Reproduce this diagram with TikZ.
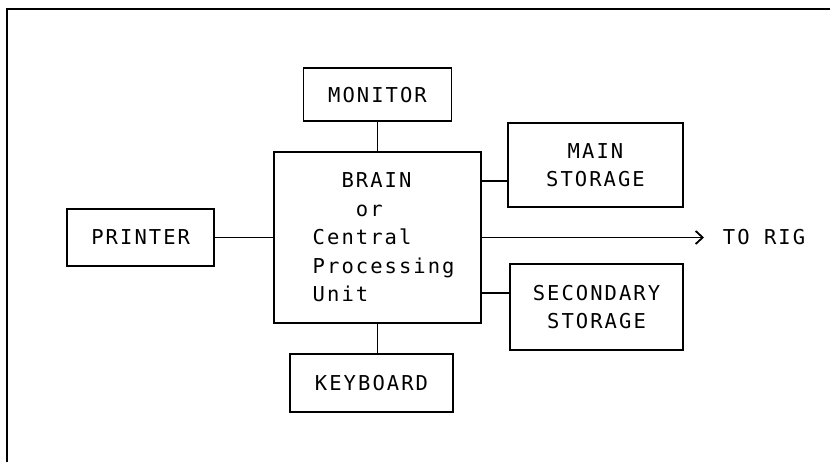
\documentclass[tikz,border=0pt]{standalone}
\usepackage{fontspec}
\usepackage{tikz}
\usetikzlibrary{positioning, calc, arrows.meta}
\newfontfamily\plotfont[LetterSpace=10]{DejaVu Sans Mono}

\begin{document}
\begin{tikzpicture}[x=1pt, y=-1pt, line width=1.8pt,
    unit/.style={draw, align=center, inner sep=0pt,
        font={\plotfont\fontsize{20.5pt}{28.5pt}\selectfont}},
    tag/.style={inner sep=0pt, font={\plotfont\fontsize{20.5pt}{28.5pt}\selectfont}}]
    \useasboundingbox (0,0) rectangle (830,462);

    % Page frame
    \draw (7,462) -- (7,9) -- (830,9);

    % Central unit
    \node[unit, align=left, minimum width=207pt, minimum height=171pt] (cpu) at (377.5,237.5)
        {\hphantom{xxx}BRAIN\\ \hphantom{xxxx}or\\ \hphantom{x}Central\\ \hphantom{x}Processing\\ \hphantom{x}Unit};

    % Units round it
    \node[unit, minimum width=148pt, minimum height=53pt, above=29pt of cpu] (mon) {MONITOR};
    \node[unit, minimum width=163pt, minimum height=58pt, below=29pt of cpu, xshift=-6pt] (kbd) {KEYBOARD};
    \node[unit, minimum width=147pt, minimum height=57pt, left=58pt of cpu] (prn) {PRINTER};
    \node[unit, minimum width=175pt, minimum height=84pt] (mst) at (595.5,165) {MAIN\\STORAGE};
    \node[unit, minimum width=173pt, minimum height=86pt] (sst) at (596.5,307) {SECONDARY\\STORAGE};
    \node[tag, anchor=west] (rig) at (722,237.5) {TO RIG};

    % Links
    \draw (mon) -- (cpu);
    \draw (cpu.south) -- (cpu.south |- kbd.north);
    \draw (prn) -- (cpu);
    \draw ([yshift=-16pt]mst.west) coordinate (mlink) -- (mlink -| cpu.east);
    \draw ([yshift=14pt]sst.west) coordinate (slink) -- (slink -| cpu.east);
    \draw[-{Straight Barb[length=7pt, width=13pt]}, shorten >=18pt] (cpu.east) -- (rig.west);
\end{tikzpicture}
\end{document}
